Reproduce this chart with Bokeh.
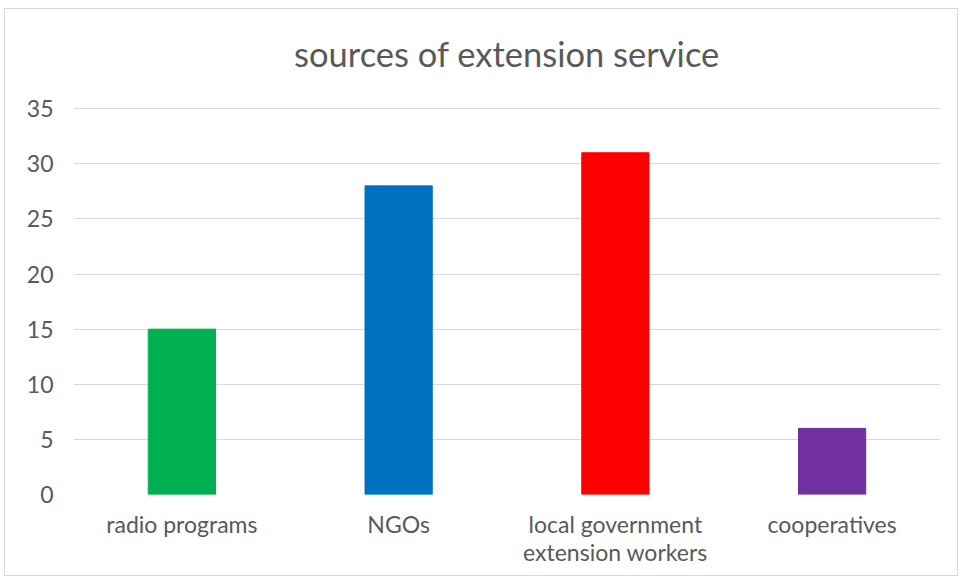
from bokeh.plotting import figure
from bokeh.models import ColumnDataSource, Label
from bokeh.embed import file_html
from bokeh.resources import INLINE

title_text = "sources of extension service"
categories = ["radio programs", "NGOs", "local government\nextension workers", "cooperatives"]
values = [15, 28, 31, 6]
colors = ["#00B050", "#0070C0", "#FF0000", "#7030A0"]
y_ticks = [0, 5, 10, 15, 20, 25, 30, 35]

src = ColumnDataSource(dict(cat=categories, val=values, color=colors))

# the y range extends above 35 so that the title can sit inside the frame
p = figure(x_range=categories, y_range=(0, 44), width=954, height=568,
           output_backend="svg", toolbar_location=None,
           min_border_left=68, min_border_right=19, min_border_top=0, min_border_bottom=83)
p.vbar(x="cat", top="val", width=0.31, color="color", source=src)

p.add_layout(Label(x=len(categories) / 2, y=40, text=title_text,
                   text_align="center", text_baseline="middle",
                   text_font="Lato", text_font_size="34.5px",
                   text_color="#595959"))

p.outline_line_color = None
p.styles = {"border": "1px solid #d9d9d9", "margin-left": "4px", "margin-top": "8px"}

p.xgrid.grid_line_color = None
p.ygrid.grid_line_color = "#d9d9d9"
p.ygrid.grid_line_width = 1
p.yaxis.ticker = y_ticks

for ax in (p.xaxis, p.yaxis):
    ax.axis_line_color = None
    ax.major_tick_line_color = None
    ax.minor_tick_line_color = None
    ax.major_label_text_font = "Lato"
    ax.major_label_text_font_size = "23px"
    ax.major_label_text_color = "#595959"
p.xaxis.major_label_text_line_height = 1.0
p.xaxis.major_label_standoff = 9
p.yaxis.major_label_standoff = 14

open("out.html", "w").write(file_html(p, INLINE))
